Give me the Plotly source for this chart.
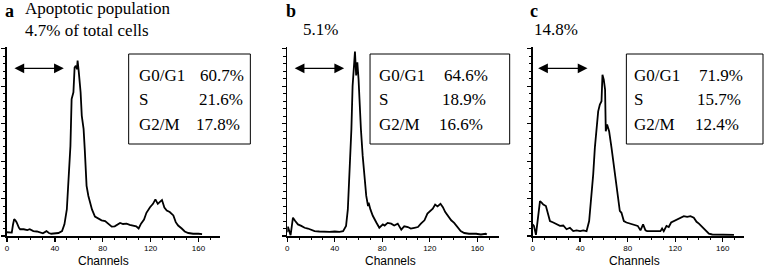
import plotly.graph_objects as go

# ---------------- data ----------------
a_channels = [0, 2, 4, 5, 6, 7, 8, 10, 11, 14, 17, 19, 22, 25, 28, 30, 33, 35, 37, 40, 43, 46, 48, 50, 51,
              53, 54, 55.5, 56.5, 57.5, 58.5, 59, 60, 61.5, 62.5, 64, 65, 66.5, 68, 69.5, 71, 73.5, 76.5,
              79, 82, 84.5, 87.5, 90, 94.5, 97, 100, 102.5, 105, 108, 110, 112, 114.5, 116.5, 119.5, 122,
              124, 126, 128, 129.5, 131.5, 133.5, 136, 139, 141, 143, 146, 148.5, 151.5, 155.5, 160, 163]
a_counts = [0.10, 0.09, 0.09, 0.30, 0.45, 0.42, 0.37, 0.22, 0.18, 0.18, 0.16, 0.18, 0.13, 0.12, 0.09, 0.07,
            0.13, 0.08, 0.06, 0.08, 0.08, 0.13, 0.31, 0.71, 1.30, 2.40, 3.66, 3.84, 4.50, 4.55, 4.46, 4.69,
            4.38, 3.84, 3.21, 2.86, 2.30, 1.34, 1.07, 0.89, 0.71, 0.52, 0.46, 0.42, 0.40, 0.33, 0.25, 0.26,
            0.35, 0.32, 0.33, 0.30, 0.28, 0.26, 0.20, 0.33, 0.44, 0.62, 0.77, 0.86, 0.98, 0.86, 0.92, 0.96,
            0.76, 0.68, 0.64, 0.55, 0.37, 0.28, 0.20, 0.12, 0.08, 0.06, 0.06, 0.05]

b_channels = [0, 0.6, 2.8, 4.8, 6.7, 9, 11.8, 14.6, 17.4, 20.2, 23, 27, 31.5, 35.5, 40, 44, 47, 49.5, 51,
              52.5, 54, 55, 56, 57, 58, 59, 60, 61, 62, 63.5, 65, 66.5, 68, 68.5, 70, 72, 75, 77.5, 80.5,
              82, 84.5, 87.5, 90, 93, 96, 98.5, 101.5, 104, 107, 110, 112.5, 115.5, 118, 120.5, 122.5,
              124.5, 126.5, 129, 131, 133, 135, 138, 140.5, 143.5, 146, 149, 153, 159, 163, 167, 168]
b_counts = [0.10, 0.25, 0.02, 0.49, 0.40, 0.31, 0.27, 0.22, 0.20, 0.16, 0.13, 0.12, 0.11, 0.11, 0.12, 0.11,
            0.13, 0.27, 0.71, 1.70, 2.86, 4.00, 4.55, 4.93, 4.29, 4.64, 4.20, 3.48, 2.86, 2.14, 1.52, 1.07,
            0.80, 0.89, 0.71, 0.54, 0.36, 0.22, 0.31, 0.28, 0.35, 0.33, 0.28, 0.33, 0.17, 0.26, 0.24, 0.20,
            0.22, 0.24, 0.33, 0.42, 0.60, 0.68, 0.73, 0.84, 0.79, 0.86, 0.77, 0.64, 0.55, 0.42, 0.35, 0.24,
            0.13, 0.08, 0.06, 0.06, 0.04, 0.06, 0.04]

c_channels = [0, 1.1, 2.8, 4.8, 6.2, 7.6, 9, 11.2, 13.2, 14.6, 17.4, 20.2, 23, 25.8, 28.6, 31.4, 34.2, 37,
              40, 42.6, 45.4, 47.6, 49.6, 51, 52.4, 53.8, 55.2, 56.6, 58, 58.8, 59.9, 61, 61.6, 62.7, 64.4,
              66.4, 68.3, 70, 72, 73.4, 74.8, 76.8, 79, 82.4, 85.7, 88.5, 90.8, 93, 95, 96.4, 102, 107.6,
              109, 110.4, 112.7, 114.6, 116.6, 118.9, 121.7, 124.5, 127.3, 130.1, 132.9, 135.7, 138, 140,
              142.8, 145.6, 148.4, 151.2, 155.4, 161, 165.3, 169.5]
c_counts = [0.31, 0.27, 0.03, 0.67, 0.93, 0.89, 0.84, 0.80, 0.58, 0.40, 0.36, 0.31, 0.27, 0.28, 0.18, 0.22,
            0.13, 0.15, 0.13, 0.15, 0.13, 0.40, 1.02, 1.64, 2.36, 2.89, 3.33, 3.51, 3.60, 4.31, 4.18, 3.91,
            2.80, 2.98, 2.80, 2.36, 1.91, 1.56, 1.11, 0.67, 0.62, 0.40, 0.36, 0.33, 0.31, 0.27, 0.15, 0.31,
            0.15, 0.13, 0.13, 0.13, 0.20, 0.13, 0.27, 0.24, 0.36, 0.40, 0.44, 0.49, 0.53, 0.51, 0.53, 0.49,
            0.38, 0.33, 0.24, 0.15, 0.06, 0.04, 0.04, 0.03, 0.04, 0.03]

panel_letters = ["a", "b", "c"]
apoptotic_labels = ["Apoptotic population<br>4.7% of total cells", "5.1%", "14.8%"]
phase_names = ["G0/G1", "S", "G2/M"]
phase_pct = [["60.7%", "21.6%", "17.8%"],
             ["64.6%", "18.9%", "16.6%"],
             ["71.9%", "15.7%", "12.4%"]]
x_ticks = [0, 40, 80, 120, 160]
x_title = "Channels"

# ---------------- layout helpers ----------------
W, H = 767, 267
def px(x):
    return x / W
def py(y):
    return 1 - y / H

SERIF = "Liberation Serif"
SANS = "Liberation Sans"

x_domains = [(5, 218.6), (286, 498), (532, 744)]
y_dom = [py(236), py(47)]
XMAX = 178
YMAX = 5.05

fig = go.Figure()
series = [(a_channels, a_counts), (b_channels, b_counts), (c_channels, c_counts)]
for i, (ch, ct) in enumerate(series):
    sfx = "" if i == 0 else str(i + 1)
    fig.add_trace(go.Scatter(x=ch, y=ct, mode="lines", xaxis="x" + sfx, yaxis="y" + sfx,
                             line=dict(color="black", width=1.8), hoverinfo="skip",
                             showlegend=False))
    xa = dict(domain=[px(x_domains[i][0]), px(x_domains[i][1])], range=[0, XMAX],
              anchor="y" + sfx, showline=True, linecolor="black", linewidth=1.6,
              ticks="outside", ticklen=4, tickwidth=1.3, tickcolor="black",
              tickvals=x_ticks, tickfont=dict(family=SANS, size=8, color="black"),
              minor=dict(dtick=10, tick0=0, ticks="outside", ticklen=2.5, tickwidth=1, tickcolor="black"),
              showgrid=False, zeroline=False, fixedrange=True)
    ya = dict(domain=y_dom, range=[0, YMAX], anchor="x" + sfx, showline=True, linecolor="black",
              linewidth=1.6, ticks="outside", ticklen=4, tickwidth=1.2, tickcolor="black",
              dtick=1, tick0=0, showticklabels=False,
              minor=dict(dtick=0.2, tick0=0, ticks="outside", ticklen=2.5, tickwidth=1, tickcolor="black"),
              showgrid=False, zeroline=False, fixedrange=True)
    fig.layout["xaxis" + sfx] = xa
    fig.layout["yaxis" + sfx] = ya

annotations = []
shapes = []

# panel letters and apoptotic labels
letter_pos = [(1, 11), (283, 11), (527, 11)]
apo_pos = [(21, 20), (300, 29), (531, 29)]
for i in range(3):
    annotations.append(dict(text="<b>%s</b>" % panel_letters[i], x=px(letter_pos[i][0]), y=py(letter_pos[i][1]),
                            xref="paper", yref="paper", xanchor="left", yanchor="middle", showarrow=False,
                            font=dict(family=SERIF, size=18, color="black")))
    annotations.append(dict(text=apoptotic_labels[i], x=px(apo_pos[i][0]), y=py(apo_pos[i][1]),
                            xref="paper", yref="paper", xanchor="left", yanchor="middle", showarrow=False,
                            align="left", font=dict(family=SERIF, size=17, color="black")))

# double-headed arrows (in data coordinates)
arrow_span = [(5.0, 47.5), (5.0, 47.9), (3.4, 46.2)]
arrow_y = 4.48
for i in range(3):
    sfx = "" if i == 0 else str(i + 1)
    annotations.append(dict(x=arrow_span[i][1], y=arrow_y, ax=arrow_span[i][0], ay=arrow_y,
                            xref="x" + sfx, yref="y" + sfx, axref="x" + sfx, ayref="y" + sfx,
                            text="", showarrow=True, arrowside="end+start",
                            arrowhead=2, startarrowhead=2, arrowsize=1.5, startarrowsize=1.5,
                            arrowwidth=1.3, arrowcolor="black"))

# boxes with phase percentages
boxes = [(127, 249), (369, 509), (626, 763)]
label_x = [135, 376, 632]
value_right = [[245, 244, 241], [489, 487, 484], [745, 743, 741]]
row_y = [75, 99, 124]
for i in range(3):
    shapes.append(dict(type="rect", xref="paper", yref="paper", x0=px(boxes[i][0]), x1=px(boxes[i][1]),
                       y0=py(144), y1=py(54), line=dict(color="black", width=1), fillcolor="rgba(0,0,0,0)"))
    for r in range(3):
        annotations.append(dict(text=phase_names[r], x=px(label_x[i]), y=py(row_y[r]), xref="paper", yref="paper",
                                xanchor="left", yanchor="middle", showarrow=False,
                                font=dict(family=SERIF, size=17, color="black")))
        annotations.append(dict(text=phase_pct[i][r], x=px(value_right[i][r]), y=py(row_y[r]), xref="paper",
                                yref="paper", xanchor="right", yanchor="middle", showarrow=False,
                                font=dict(family=SERIF, size=17, color="black")))

# x-axis titles
title_x = [81, 87, 86]
for i in range(3):
    sfx = "" if i == 0 else str(i + 1)
    annotations.append(dict(text=x_title, x=title_x[i], y=py(260.5), xref="x" + sfx, yref="paper",
                            xanchor="center", yanchor="middle", showarrow=False,
                            font=dict(family=SANS, size=12, color="black")))

fig.update_layout(width=W, height=H, autosize=False, margin=dict(l=0, r=0, t=0, b=0),
                  paper_bgcolor="white", plot_bgcolor="white",
                  annotations=annotations, shapes=shapes)

fig.write_html("out.html", config={"displayModeBar": False, "staticPlot": True},
               post_script="document.body.style.margin='0';document.body.style.padding='0';"
                           "document.documentElement.style.overflow='hidden';")
